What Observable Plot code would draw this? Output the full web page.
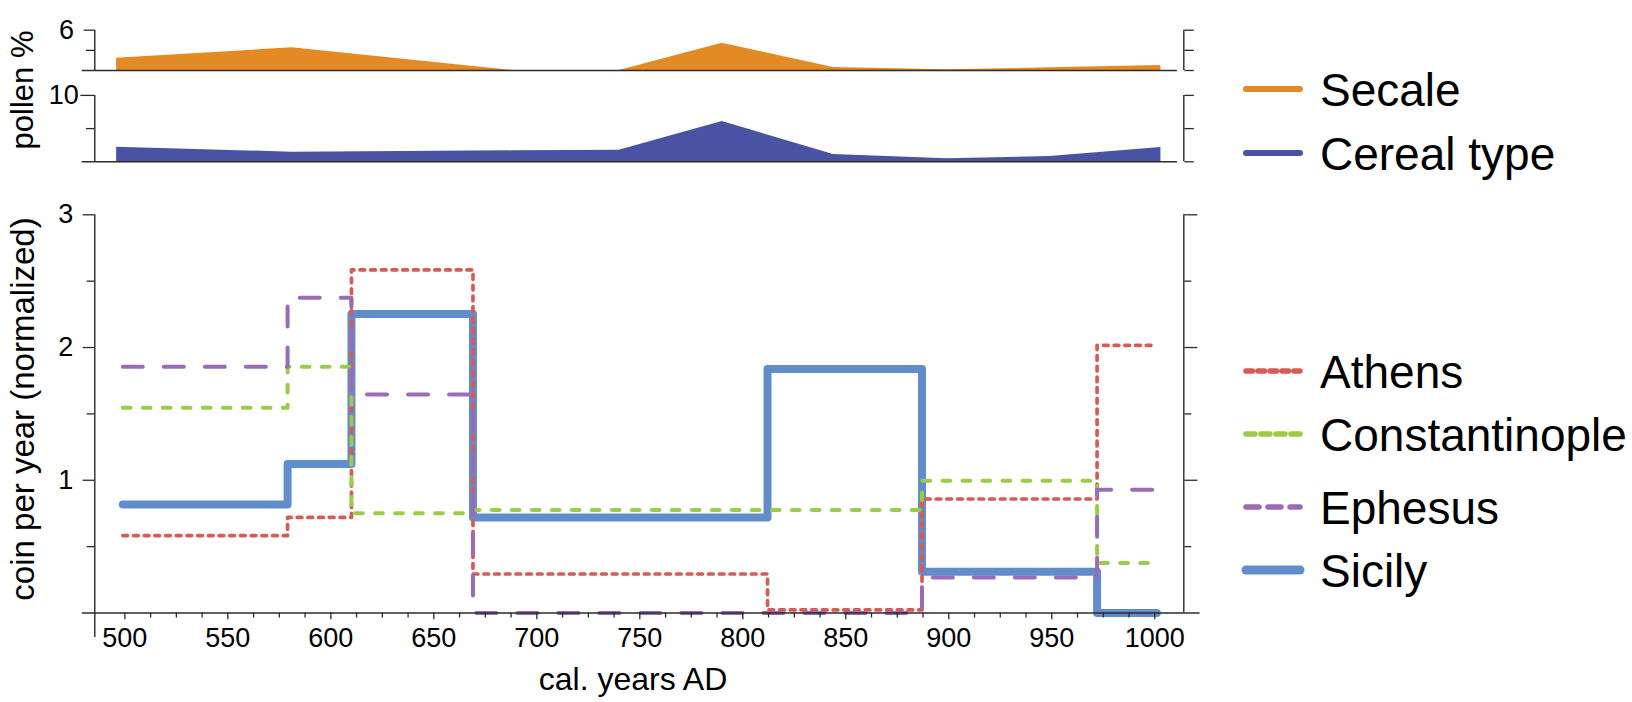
<!DOCTYPE html>
<html><head><meta charset="utf-8">
<script src="https://cdn.jsdelivr.net/npm/d3@7"></script>
<script src="https://cdn.jsdelivr.net/npm/@observablehq/plot@0.6"></script>
<style>
body{margin:0;background:#fff;font-family:"Liberation Sans",Arial,sans-serif;}
#wrap{position:relative;width:1632px;height:702px;overflow:hidden;background:#fff;}
.panel{position:absolute;left:0;}
.lbl{position:absolute;white-space:nowrap;color:#000;line-height:1;}
</style></head><body><div id="wrap"></div>
<script>
// ---- data ----
const periodYears = [499, 579, 610, 669, 812, 887, 972, 1001];
const athens         = [0.583, 0.72, 2.585, 0.294, 0.023, 0.859, 2.017];
const constantinople = [1.547, 1.856, 0.751, 0.776, 0.776, 0.997, 0.377];
const ephesus        = [1.856, 2.376, 1.647, 0, 0, 0.268, 0.929];
const sicily         = [0.818, 1.123, 2.253, 0.72, 1.839, 0.311, 0];
const pollenYears = [496, 581, 689, 740, 790, 844, 899, 949, 1003];
const secale = [1.83, 3.38, 0, 0, 4.06, 0.45, 0.1, 0.4, 0.74];
const cereal = [2.2, 1.45, 1.65, 1.75, 6.07, 1.1, 0.45, 0.8, 2.15];
const xMajorTicks = [500, 550, 600, 650, 700, 750, 800, 850, 900, 950, 1000];
const xMinorTicks = [512.5,525,537.5,562.5,575,587.5,612.5,625,637.5,662.5,675,687.5,712.5,725,737.5,762.5,775,787.5,812.5,825,837.5,862.5,875,887.5,912.5,925,937.5,962.5,975,987.5];
const coinMajorTicks = [1, 2, 3];
const coinMinorTicks = [0.5, 1.5, 2.5];
const seriesNames = ["Athens", "Constantinople", "Ephesus", "Sicily"];
const pollenNames = ["Secale", "Cereal type"];

// ---- styles ----
const AX = "#2b2b2b";
const FONT = "Liberation Sans, Arial, sans-serif";
const C = {Athens:"#D65B56", Constantinople:"#9CCB4B", Ephesus:"#9A6CB5", Sicily:"#628DCB", Secale:"#E48A25", "Cereal type":"#4A53A3"};
const xDomain = [485.4, 1014.1];
const ML = 94.3, MR = 1632 - 1183.3;
const baseStyle = {fontFamily: FONT, fontSize: "27px", background: "transparent", color: "#000", overflow: "visible"};

const wrap = document.getElementById("wrap");
function place(el, top){ el.classList.add("panel"); el.style.top = top + "px"; wrap.appendChild(el); }

// ---- main coin chart ----
function stepRows(vals){ return periodYears.map((yr, i) => ({year: yr, v: vals[Math.min(i, vals.length - 1)]})); }
const lineSpecs = [
  {name:"Sicily", vals: sicily, w: 8, dash: null},
  {name:"Athens", vals: athens, w: 3.7, dash: "4.7,6"},
  {name:"Constantinople", vals: constantinople, w: 4, dash: "7.7,12.3"},
  {name:"Ephesus", vals: ephesus, w: 4, dash: "20,21"}
];
const lineMarks = lineSpecs.map(s => Plot.line(stepRows(s.vals), {
  x: "year", y: "v", curve: "step-after", stroke: C[s.name], strokeWidth: s.w,
  strokeLinecap: "round", strokeLinejoin: "round", strokeDasharray: s.dash
}));

const main = Plot.plot({
  width: 1632, height: 532,
  marginLeft: ML, marginRight: MR, marginTop: 44.3, marginBottom: 89.5,
  x: {domain: xDomain, axis: null},
  y: {domain: [0, 3], axis: null},
  style: baseStyle,
  marks: [
    ...lineMarks,
    Plot.ruleY([0], {x1: 479.3, x2: 1022, stroke: AX, strokeWidth: 1.4}),
    Plot.ruleX([485.4], {y1: -0.185, y2: 3, stroke: AX, strokeWidth: 1.4}),
    Plot.ruleX([1014.1], {y1: 0, y2: 3, stroke: AX, strokeWidth: 1.4}),
    Plot.axisY(coinMajorTicks, {anchor: "left", tickSize: 11.6, tickPadding: 10, fontSize: 27, label: null, stroke: AX, strokeWidth: 1.3, tickFormat: d => String(d)}),
    Plot.axisY(coinMinorTicks, {anchor: "left", tickSize: 7.6, label: null, stroke: AX, strokeWidth: 1.3, tickFormat: () => ""}),
    Plot.axisY(coinMajorTicks, {anchor: "right", tickSize: 13, label: null, stroke: AX, strokeWidth: 1.3, tickFormat: () => ""}),
    Plot.axisY(coinMinorTicks, {anchor: "right", tickSize: 7, label: null, stroke: AX, strokeWidth: 1.3, tickFormat: () => ""}),
    Plot.axisX(xMajorTicks, {anchor: "bottom", tickSize: 6.7, tickPadding: 8, fontSize: 27, label: null, stroke: AX, strokeWidth: 1.3, tickFormat: d => String(d)}),
    Plot.axisX(xMinorTicks, {anchor: "bottom", tickSize: 5, label: null, stroke: AX, strokeWidth: 1.3, tickFormat: () => ""})
  ]
});

// ---- pollen panels ----
const pollenRows = pollenYears.map((yr, i) => ({year: yr, secale: secale[i], cereal: cereal[i]}));
function pollenPanel(key, color, height, mTop, mBottom, yMax, labelTick, minorTick){
  return Plot.plot({
    width: 1632, height,
    marginLeft: ML, marginRight: MR, marginTop: mTop, marginBottom: mBottom,
    x: {domain: xDomain, axis: null},
    y: {domain: [0, yMax], axis: null},
    style: baseStyle,
    marks: [
      Plot.areaY(pollenRows, {x: "year", y: key, fill: color}),
      Plot.ruleY([0], {x1: 479.3, x2: 1011, stroke: AX, strokeWidth: 1.4}),
      Plot.ruleX([485.4], {y1: 0, y2: yMax, stroke: AX, strokeWidth: 1.4}),
      Plot.ruleX([1014.1], {y1: 0, y2: yMax, stroke: AX, strokeWidth: 1.4}),
      Plot.axisY([labelTick], {anchor: "left", tickSize: labelTick === 10 ? 14 : 10.7, tickPadding: labelTick === 10 ? 2 : 10, fontSize: 27, label: null, stroke: AX, strokeWidth: 1.3, tickFormat: d => String(d)}),
      Plot.axisY([minorTick], {anchor: "left", tickSize: 8.4, label: null, stroke: AX, strokeWidth: 1.3, tickFormat: () => ""}),
      Plot.axisY([0, minorTick, labelTick], {anchor: "right", tickSize: 9.5, label: null, stroke: AX, strokeWidth: 1.3, tickFormat: () => ""})
    ]
  });
}
const secalePlot = pollenPanel("secale", C.Secale, 80, 29.7, 10, 6, 6, 3);
const cerealPlot = pollenPanel("cereal", C["Cereal type"], 90, 14.9, 8.7, 10, 10, 5);

place(secalePlot, 0);
place(cerealPlot, 80);
place(main, 170);

// ---- axis titles ----
function label(text, cx, cy, size, rotate){
  const d = document.createElement("div");
  d.className = "lbl";
  d.textContent = text;
  d.style.fontSize = size + "px";
  d.style.left = cx + "px";
  d.style.top = cy + "px";
  d.style.transform = "translate(-50%,-50%)" + (rotate ? " rotate(-90deg)" : "");
  wrap.appendChild(d);
}
label("pollen %", 22, 90, 31, true);
label("coin per year (normalized)", 22, 409, 33, true);
label("cal. years AD", 633, 679, 32, false);

// ---- legends ----
const leg = d3.select(wrap).append("svg")
  .attr("width", 1632).attr("height", 702)
  .style("position", "absolute").style("left", 0).style("top", 0)
  .style("font-family", FONT);
const legendItems = [
  {name: pollenNames[0], y: 89, w: 6, dash: null},
  {name: pollenNames[1], y: 153, w: 6, dash: null},
  {name: seriesNames[0], y: 371, w: 5.5, dash: "6.5,5.5"},
  {name: seriesNames[1], y: 434, w: 5.5, dash: "9,6"},
  {name: seriesNames[2], y: 507, w: 5.5, dash: "13,9"},
  {name: seriesNames[3], y: 570, w: 9, dash: null}
];
legendItems.forEach(it => {
  leg.append("line").attr("x1", 1246).attr("x2", 1300).attr("y1", it.y).attr("y2", it.y)
    .attr("stroke", C[it.name]).attr("stroke-width", it.w).attr("stroke-linecap", "round")
    .attr("stroke-dasharray", it.dash);
  leg.append("text").attr("x", 1320).attr("y", it.y).attr("dy", "0.36em")
    .attr("font-size", 46).attr("fill", "#000").text(it.name);
});
</script></body></html>
